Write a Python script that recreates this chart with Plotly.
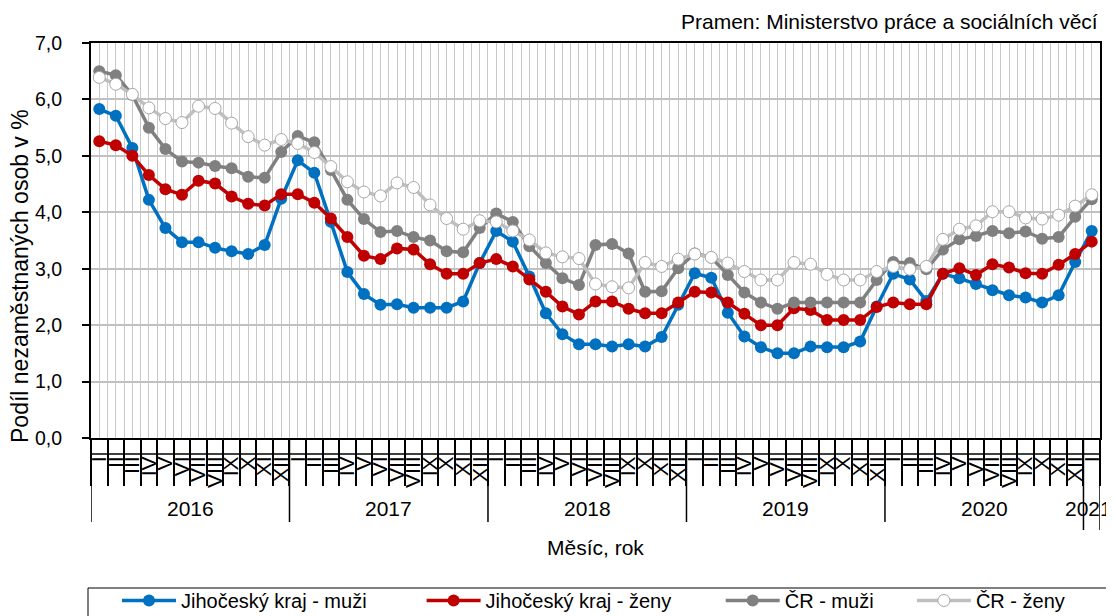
import plotly.graph_objects as go

# ---- data ----
years = ["2016", "2017", "2018", "2019", "2020", "2021"]
months_per_year = [12, 12, 12, 12, 12, 1]
roman = ["I", "II", "III", "IV", "V", "VI", "VII", "VIII", "IX", "X", "XI", "XII"]
month_labels = []
for n in months_per_year:
    month_labels += roman[:n]

jc_muzi = [5.83, 5.71, 5.14, 4.22, 3.72, 3.47, 3.47, 3.37, 3.31, 3.26, 3.42, 4.24,
           4.92, 4.70, 3.83, 2.94, 2.55, 2.36, 2.37, 2.31, 2.31, 2.31, 2.42, 3.10,
           3.67, 3.48, 2.86, 2.21, 1.84, 1.66, 1.66, 1.62, 1.66, 1.62, 1.79, 2.36,
           2.92, 2.84, 2.22, 1.80, 1.61, 1.50, 1.50, 1.62, 1.61, 1.61, 1.71, 2.33,
           2.91, 2.81, 2.43, 2.91, 2.83, 2.73, 2.62, 2.53, 2.49, 2.40, 2.53, 3.12,
           3.67]
jc_zeny = [5.26, 5.19, 5.00, 4.66, 4.41, 4.31, 4.56, 4.51, 4.28, 4.15, 4.12, 4.32,
           4.32, 4.17, 3.89, 3.56, 3.23, 3.17, 3.36, 3.34, 3.08, 2.91, 2.91, 3.10,
           3.17, 3.04, 2.81, 2.59, 2.33, 2.19, 2.42, 2.42, 2.29, 2.21, 2.21, 2.40,
           2.59, 2.58, 2.40, 2.20, 2.00, 2.00, 2.30, 2.27, 2.09, 2.09, 2.09, 2.32,
           2.40, 2.37, 2.37, 2.91, 3.01, 2.89, 3.08, 3.02, 2.92, 2.91, 3.07, 3.26,
           3.48]
cr_muzi = [6.50, 6.43, 6.08, 5.50, 5.12, 4.90, 4.88, 4.82, 4.78, 4.63, 4.61, 5.07,
           5.35, 5.24, 4.75, 4.22, 3.88, 3.65, 3.67, 3.56, 3.50, 3.31, 3.29, 3.72,
           3.98, 3.83, 3.40, 3.10, 2.83, 2.71, 3.42, 3.44, 3.27, 2.59, 2.60, 3.01,
           3.27, 3.20, 2.89, 2.58, 2.40, 2.29, 2.40, 2.40, 2.40, 2.40, 2.40, 2.80,
           3.12, 3.10, 2.99, 3.34, 3.52, 3.58, 3.67, 3.63, 3.66, 3.53, 3.56, 3.92,
           4.23]
cr_zeny = [6.39, 6.27, 6.09, 5.85, 5.66, 5.59, 5.88, 5.84, 5.58, 5.34, 5.19, 5.29,
           5.22, 5.06, 4.81, 4.54, 4.36, 4.29, 4.52, 4.44, 4.13, 3.89, 3.70, 3.85,
           3.83, 3.67, 3.51, 3.28, 3.21, 3.18, 2.73, 2.68, 2.66, 3.11, 3.04, 3.17,
           3.26, 3.20, 3.10, 2.95, 2.80, 2.80, 3.11, 3.08, 2.90, 2.80, 2.80, 2.95,
           3.04, 2.99, 3.04, 3.52, 3.70, 3.76, 4.01, 4.01, 3.90, 3.88, 3.95, 4.11,
           4.31]

series_names = ["Jihočeský kraj - muži", "Jihočeský kraj - ženy", "ČR - muži", "ČR - ženy"]
source_text = "Pramen: Ministerstvo práce a sociálních věcí"
y_title = "Podíl nezaměstnaných osob v %"
x_title = "Měsíc, rok"

# ---- figure ----
FONT = "Liberation Sans, Arial, sans-serif"
OFF = 8                      # page body margin
W, H = 1114 - OFF, 616 - OFF
ML, MT = 91 - OFF, 43 - OFF
PR, PB = 1100 - OFF, 438 - OFF
MR, MB = W - PR, H - PB
PW = PR - ML
PH = PB - MT


def py(screen_y):
    """screen pixel row -> paper fraction"""
    return ((PB + OFF) - screen_y) / PH


def px(screen_x):
    return (screen_x - (ML + OFF)) / PW


n = len(month_labels)
xs = list(range(n))
pads = [9, 8, 6, 5]

fig = go.Figure()
styles = [
    dict(line=dict(color="#0070C0", width=3.5), marker=dict(color="#0070C0", size=12)),
    dict(line=dict(color="#C00000", width=3.5), marker=dict(color="#C00000", size=12)),
    dict(line=dict(color="#808080", width=3.5), marker=dict(color="#808080", size=12)),
    dict(line=dict(color="#BFBFBF", width=3.5),
         marker=dict(color="#FFFFFF", size=12, line=dict(color="#A6A6A6", width=1))),
]
for name, vals, st, p in zip(series_names, [jc_muzi, jc_zeny, cr_muzi, cr_zeny], styles, pads):
    fig.add_trace(go.Scatter(x=xs, y=vals, mode="lines+markers", name=name + "\u00a0" * p,
                             line=st["line"], marker=dict(symbol="circle", **st["marker"])))

boundaries = [k - 0.5 for k in range(n + 1)]

fig.update_xaxes(
    range=[-0.5, n - 0.5], automargin=False,
    tickmode="array", tickvals=xs, ticktext=month_labels,
    tickangle=-90, tickfont=dict(family=FONT, size=21, color="#000"),
    ticks="", ticklabelstandoff=8,
    showgrid=True, gridcolor="#C8C8C8", gridwidth=1,
    showline=True, linecolor="#000", linewidth=2, mirror=True,
    zeroline=False,
    minor=dict(tickmode="array", tickvals=boundaries, ticks="outside", ticklen=46,
               tickcolor="#000", tickwidth=1.5, showgrid=True, gridcolor="#C8C8C8", gridwidth=1),
)
fig.update_yaxes(
    range=[0, 7], dtick=1, tickformat=".1f", automargin=False,
    tickfont=dict(family=FONT, size=19.5, color="#000"),
    ticks="outside", ticklen=7, tickcolor="#000", tickwidth=1.5, ticklabelstandoff=16,
    showgrid=True, gridcolor="#C0C0C0", gridwidth=1.5,
    showline=True, linecolor="#000", linewidth=2, mirror=True,
    zeroline=False,
)

# year separators and labels
shapes = []
annotations = []
start = 0
for yr, cnt in zip(years, months_per_year):
    end = start + cnt
    last = end == n
    annotations.append(dict(x=(start + end - 1) / 2, y=py(508), xref="x", yref="paper",
                            text=yr, showarrow=False, font=dict(family=FONT, size=21, color="#000"),
                            xanchor="center", yanchor="middle", xshift=-3 if last else 0))
    start = end
year_bounds = [-0.5]
acc = 0
for cnt in months_per_year:
    acc += cnt
    year_bounds.append(acc - 0.5)
for i, b in enumerate(year_bounds):
    bottom = py(530) if i >= len(year_bounds) - 2 else py(522)
    shapes.append(dict(type="line", xref="x", yref="paper", x0=b, x1=b, y0=0, y1=bottom,
                       line=dict(color="#000", width=1.5)))
# horizontal rule in the month-label band
shapes.append(dict(type="line", xref="x", yref="paper", x0=-0.5, x1=n - 0.5,
                   y0=py(454), y1=py(454), line=dict(color="#000", width=1.5)))
# legend frame
shapes.append(dict(type="rect", xref="paper", yref="paper",
                   x0=px(88), x1=px(1111), y0=py(588), y1=py(624),
                   line=dict(color="#000", width=1), fillcolor="rgba(0,0,0,0)"))

annotations.append(dict(x=1, y=py(22), xref="paper", yref="paper", text=source_text,
                        showarrow=False, xanchor="right", yanchor="middle",
                        font=dict(family=FONT, size=21, color="#000")))
annotations.append(dict(x=0.5, y=py(547), xref="paper", yref="paper", text=x_title,
                        showarrow=False, xanchor="center", yanchor="middle",
                        font=dict(family=FONT, size=21, color="#000")))
annotations.append(dict(x=px(20), y=py(276), xref="paper", yref="paper", text=y_title,
                        textangle=-90, showarrow=False, xanchor="center", yanchor="middle",
                        font=dict(family=FONT, size=23, color="#000")))

fig.update_layout(
    width=W, height=H, autosize=False,
    margin=dict(l=ML, r=MR, t=MT, b=MB, autoexpand=False),
    paper_bgcolor="#FFFFFF", plot_bgcolor="#FFFFFF",
    separators=", ",
    font=dict(family=FONT, size=20, color="#000"),
    shapes=shapes, annotations=annotations,
    showlegend=True,
    legend=dict(orientation="h", x=px(117), xanchor="left",
                y=py(581), yanchor="top",
                borderwidth=0, bgcolor="rgba(0,0,0,0)",
                font=dict(family=FONT, size=20, color="#000"), itemwidth=54),
)

fig.write_html("out.html")
